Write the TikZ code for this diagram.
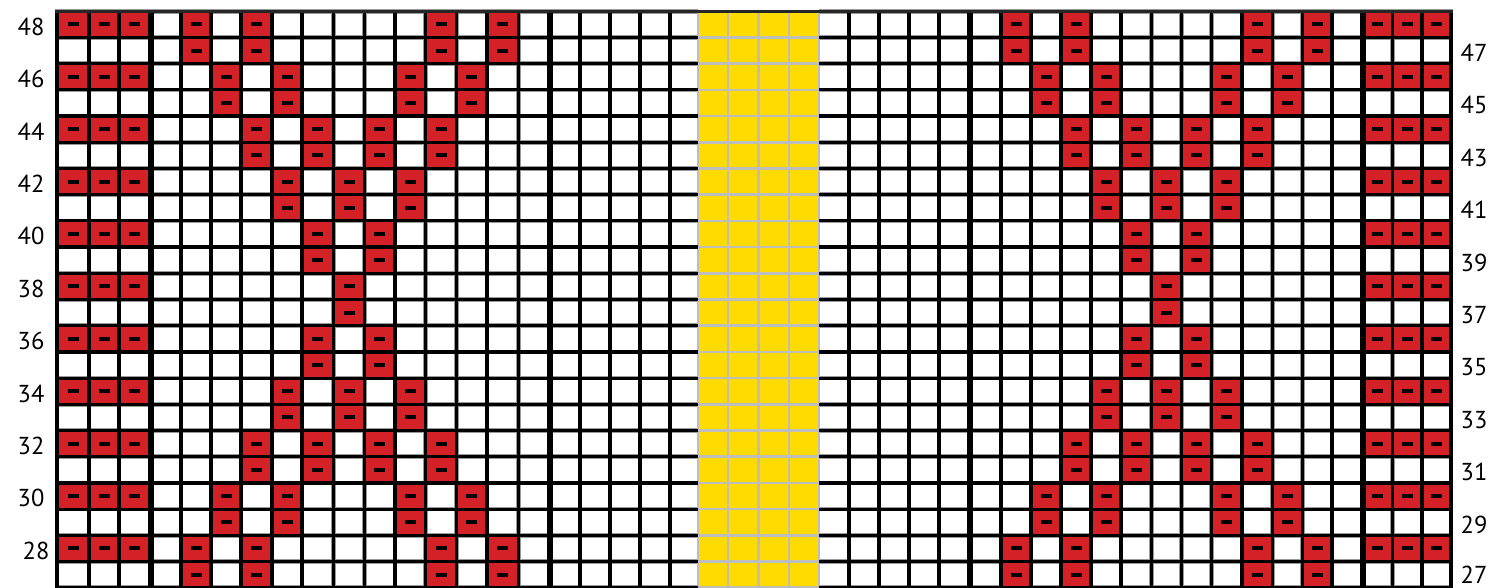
\documentclass[tikz,border=0pt]{standalone}
\usepackage{fontspec}
\setmainfont{PT Sans}
\definecolor{knitred}{HTML}{D42027}
\definecolor{knityellow}{HTML}{FFDB00}
\definecolor{yline}{HTML}{BDBDBD}
\definecolor{fringe}{HTML}{9A9A9A}
\def\bx{{57,89,119,150.5,181,211,241,272,302,333.5,364.5,395,425.5,456.5,487,518.5,550,580,610,640,670,698,728,758.5,789,819,849,879,909,939,970,1001,1031,1061,1091,1121,1151.5,1181.5,1211.5,1242,1272.5,1302.5,1332,1363,1392.5,1422,1451}}
\def\ytop{11.3}
\def\rowh{26.2}
\newcommand\redcell[2]{%
  \pgfmathtruncatemacro\ia{#1-1}%
  \pgfmathsetmacro\xa{\bx[\ia]}%
  \pgfmathsetmacro\xb{\bx[#1]}%
  \pgfmathsetmacro\ya{\ytop+\rowh*(#2-1)}%
  \pgfmathsetmacro\yb{\ytop+\rowh*#2}%
  \fill[knitred] (\xa,\ya) rectangle (\xb,\yb);
  \fill[black] ({(\xa+\xb)/2-5.5},{(\ya+\yb)/2-2}) rectangle ({(\xa+\xb)/2+5.5},{(\ya+\yb)/2+2});
}
\begin{document}
\begin{tikzpicture}[x=1pt,y=-1pt,
  lbl/.style={font=\fontsize{24.5}{24.5}\selectfont, inner sep=0pt, anchor=center},
  blackline/.style={line width=3.2pt, black},
  fringeline/.style={line width=4.6pt, fringe},
  yellowline/.style={line width=2.6pt, yline}]
\useasboundingbox (0,0) rectangle (1489,588);
% base fills
\pgfmathsetmacro\ybot{\ytop+\rowh*22}
\fill[white] (57,\ytop) rectangle (1451,\ybot);
\fill[knityellow] (698,\ytop) rectangle (819,\ybot);
% fringe (thin grey edge of cells), under the red cells
\foreach \j in {0,...,22} {
  \pgfmathsetmacro\yy{\ytop+\rowh*\j}
  \draw[fringeline] (55,\yy) -- (698,\yy);
  \draw[fringeline] (819,\yy) -- (1453,\yy);
}
\foreach \i in {0,...,20,26,27,...,46} {
  \pgfmathsetmacro\xx{\bx[\i]}
  \draw[fringeline] (\xx,\ytop) -- (\xx,\ybot);
}
% edge columns
\foreach \j in {1,3,...,21} {
  \foreach \c in {1,2,3,44,45,46} {\redcell{\c}{\j}}
}
% diamond pattern
\foreach \k/\cols in {0/{5,7,13,15},1/{6,8,12,14},2/{7,9,11,13},3/{8,10,12},4/{9,11},5/{10},6/{9,11},7/{8,10,12},8/{7,9,11,13},9/{6,8,12,14},10/{5,7,13,15}} {
  \foreach \c in \cols {
    \pgfmathtruncatemacro\ja{2*\k+1}
    \pgfmathtruncatemacro\jb{2*\k+2}
    \pgfmathtruncatemacro\cm{47-\c}
    \redcell{\c}{\ja}\redcell{\c}{\jb}\redcell{\cm}{\ja}\redcell{\cm}{\jb}
  }
}
% yellow area grid
\foreach \j in {0,...,22} {
  \pgfmathsetmacro\yy{\ytop+\rowh*\j}
  \draw[yellowline] (698,\yy) -- (819,\yy);
}
\foreach \i in {21,...,25} {
  \pgfmathsetmacro\xx{\bx[\i]}
  \draw[yellowline] (\xx,\ytop) -- (\xx,\ybot);
}
% black grid lines
\foreach \j in {0,...,22} {
  \pgfmathsetmacro\yy{\ytop+\rowh*\j}
  \draw[blackline] (55,\yy) -- (698,\yy);
  \draw[blackline] (819,\yy) -- (1453,\yy);
}
\foreach \i in {1,2,4,5,...,15,17,18,19,20,26,27,28,29,31,32,...,42,44,45} {
  \pgfmathsetmacro\xx{\bx[\i]}
  \draw[blackline] (\xx,\ytop) -- (\xx,\ybot);
}
\foreach \i in {3,16,30,43} {
  \pgfmathsetmacro\xx{\bx[\i]}
  \draw[black, line width=6pt] (\xx,\ytop) -- (\xx,\ybot);
}
\foreach \i in {0,46} {
  \pgfmathsetmacro\xx{\bx[\i]}
  \draw[black, line width=4pt] (\xx,{\ytop-1.6}) -- (\xx,\ybot);
}
\draw[black!85, line width=2.6pt] (55,\ytop) -- (1453,\ytop);
% row labels
\foreach \j in {1,...,22} {
  \pgfmathtruncatemacro\n{49-\j}
  \pgfmathsetmacro\yc{\ytop+\rowh*(\j-0.5)+2.3}
  \ifodd\j
    \ifnum\n=28
      \node[lbl] (lbl\n) at (36,\yc) {\n};
    \else
      \node[lbl] (lbl\n) at (31,\yc) {\n};
    \fi
  \else
    \ifnum\n=27
      \node[lbl] (lbl\n) at (1474,{\yc-2.5}) {\n};
    \else
      \node[lbl] (lbl\n) at (1474,\yc) {\n};
    \fi
  \fi
}
\end{tikzpicture}
\end{document}
